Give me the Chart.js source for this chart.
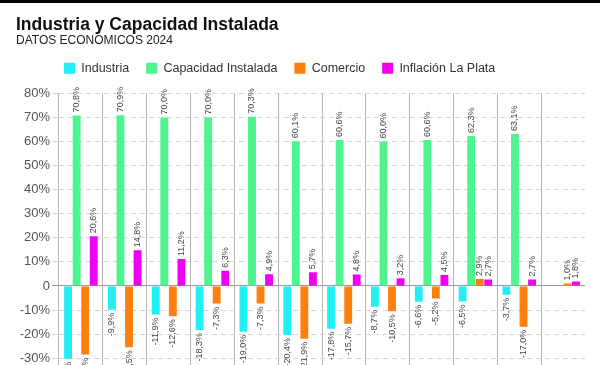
<!DOCTYPE html>
<html>
<head>
<meta charset="utf-8">
<script src="https://cdn.jsdelivr.net/npm/chart.js@4.4.1/dist/chart.umd.min.js"></script>
<style>
  html, body { margin: 0; padding: 0; background: #fff; overflow: hidden; }
  #topbar { position: absolute; left: 0; top: 0; width: 600px; height: 3px; background: #000; z-index: 2; }
  #wrap { position: absolute; left: 0; top: 0; width: 600px; height: 392px; }
</style>
</head>
<body>
<div id="topbar"></div>
<div id="wrap"><canvas id="grafico"></canvas></div>
<script>
// categorias (meses 2024)
const meses = ['Ene', 'Feb', 'Mar', 'Abr', 'May', 'Jun', 'Jul', 'Ago', 'Sep', 'Oct', 'Nov', 'Dic'];

const industria = [-30.3, -9.9, -11.9, -18.3, -19.0, -20.4, -17.8, -8.7, -6.6, -6.5, -3.7, null];
const capacidad = [70.8, 70.9, 70.0, 70.0, 70.3, 60.1, 60.6, 60.0, 60.6, 62.3, 63.1, null];
const comercio = [-28.5, -25.5, -12.6, -7.3, -7.3, -21.9, -15.7, -10.5, -5.2, 2.9, -17.0, 1.0];
const inflacion = [20.6, 14.8, 11.2, 6.3, 4.9, 5.7, 4.8, 3.2, 4.5, 2.7, 2.7, 1.8];

const yTicks = [-40, -30, -20, -10, 0, 10, 20, 30, 40, 50, 60, 70, 80];

function fmt(v) {
	return v.toFixed(1).replace('.', ',') + '%';
}

// etiquetas rotadas sobre cada barra
const etiquetas = {
	id: 'etiquetas',
	afterDatasetsDraw(chart) {
		const ctx = chart.ctx;
		ctx.save();
		ctx.font = '9px "Liberation Sans", Arial, sans-serif';
		ctx.fillStyle = '#444';
		ctx.textBaseline = 'middle';
		chart.data.datasets.forEach((ds, i) => {
			const meta = chart.getDatasetMeta(i);
			meta.data.forEach((bar, j) => {
				const v = ds.data[j];
				if (v === null || v === undefined) return;
				ctx.save();
				if (v >= 0) {
					ctx.translate(bar.x, bar.y - 3);
					ctx.rotate(-Math.PI / 2);
					ctx.textAlign = 'left';
				} else {
					ctx.translate(bar.x, bar.y + 3);
					ctx.rotate(-Math.PI / 2);
					ctx.textAlign = 'right';
				}
				ctx.fillText(fmt(v), 0, 0);
				ctx.restore();
			});
		});
		ctx.restore();
	}
};

// corre la leyenda (derecha y arriba)
const moverLeyenda = {
	id: 'moverLeyenda',
	afterLayout(chart) {
		chart.legend.left += 31;
		chart.legend.right += 31;
		chart.legend.top -= 9;
		chart.legend.bottom -= 9;
	}
};

const data = {
	labels: meses,
	datasets: [
		{ label: 'Industria', data: industria, backgroundColor: '#22eef5' },
		{ label: 'Capacidad Instalada', data: capacidad, backgroundColor: '#4ef58f' },
		{ label: 'Comercio', data: comercio, backgroundColor: '#ff7f0e' },
		{ label: 'Inflación La Plata', data: inflacion, backgroundColor: '#f000f0' }
	]
};

const config = {
	type: 'bar',
	data: data,
	options: {
		responsive: true,
		maintainAspectRatio: false,
		animation: false,
		categoryPercentage: 0.78,
		barPercentage: 0.92,
		layout: { padding: { left: 16, right: 15, top: 0, bottom: 0 } },
		plugins: {
			title: {
				display: true,
				text: 'Industria y Capacidad Instalada',
				align: 'start',
				color: '#111',
				font: { family: '"Liberation Sans", Arial, sans-serif', size: 17.5, weight: 'bold', lineHeight: 1.0 },
				padding: { top: 16, bottom: 0 }
			},
			subtitle: {
				display: true,
				text: 'DATOS ECONÓMICOS 2024',
				align: 'start',
				color: '#222',
				font: { family: '"Liberation Sans", Arial, sans-serif', size: 12, lineHeight: 1.2 },
				padding: { top: 0, bottom: 6 }
			},
			legend: {
				display: true,
				align: 'start',
				labels: {
					boxWidth: 11,
					boxHeight: 11,
					padding: 17,
					color: '#333',
					font: { family: '"Liberation Sans", Arial, sans-serif', size: 12.5 }
				}
			},
			tooltip: { enabled: false }
		},
		scales: {
			x: {
				grid: {
					offset: true,
					color: c => c.type === 'tick' ? '#b5b5b5' : 'rgba(0,0,0,0)',
					drawTicks: false
				},
				border: { display: false },
				ticks: { display: false }
			},
			y: {
				min: -40,
				max: 80,
				afterBuildTicks: s => { s.ticks = yTicks.map(v => ({ value: v })); },
				afterFit: s => { s.width = 43; },
				grid: {
					color: c => c.tick && c.tick.value === 0 ? '#999' : '#d6d6d6',
					tickLength: 7
				},
				border: {
					display: false,
					dash: c => c.tick && c.tick.value === 0 ? [] : [5, 4]
				},
				ticks: {
					padding: 2,
					color: '#555',
					font: { family: '"Liberation Sans", Arial, sans-serif', size: 13 },
					callback: v => v === 0 ? '0' : v + '%'
				}
			}
		}
	},
	plugins: [etiquetas, moverLeyenda]
};

new Chart(document.getElementById('grafico'), config);
</script>
</body>
</html>
